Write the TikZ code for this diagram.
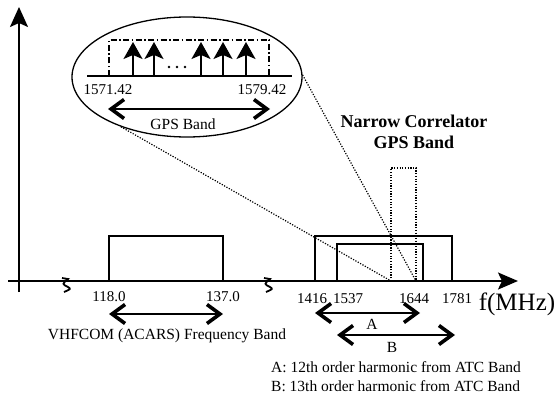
\documentclass[tikz,border=0pt]{standalone}
\usepackage{fontspec}
\setmainfont{Liberation Serif}
\usetikzlibrary{arrows.meta,shapes.geometric}
\begin{document}
\begin{tikzpicture}[x=1pt,y=-1pt,
  axis/.style={line width=1.8pt},
  band/.style={line width=1.6pt},
  dotline/.style={line width=1.2pt, dash pattern=on 1.2pt off 1.5pt},
  dashdot/.style={line width=1.3pt, dash pattern=on 6pt off 2.5pt on 1.5pt off 2.5pt},
  chev/.tip={Straight Barb[sharp,length=13pt,width=19pt,line width=3.6pt]},
  dbl/.style={line width=1.6pt, chev-chev},
  spike/.style={line width=1.6pt, -{Stealth[length=17pt,width=19pt,inset=4pt]}},
  num/.style={font=\fontsize{15}{17}\selectfont, inner sep=0pt},
  lbl/.style={font=\fontsize{15.5}{18}\selectfont, inner sep=0pt},
  brk/.style={line width=1.8pt}
]
\useasboundingbox (0,0) rectangle (557,396);

% axes
\coordinate (ybot) at (19,292);
\coordinate (ytop) at (19,7);
\coordinate (xl) at (8,281);
\coordinate (xr) at (518,281);
\draw[axis,-{Stealth[length=20pt,width=18pt,inset=4pt]}] (ybot) -- (ytop);
\draw[axis,-{Stealth[length=20pt,width=17pt,inset=4pt]}] (xl) -- (xr);

% break marks
\draw[brk] (62,278) -- (68,279) .. controls (62,284) .. (68,287) .. controls (71,289) .. (64,292);
\draw[brk] (264,278) -- (270,279) .. controls (264,284) .. (270,287) .. controls (273,289) .. (266,292);

% VHF band
\draw[band] (109,281) -- (109,236) -- (223,236) -- (223,281);
\node[num] (t118) at (109,297) {118.0};
\node[num] (t137) at (223,297) {137.0};
\coordinate (va) at (109,314);
\coordinate (vb) at (223,314);
\draw[dbl] (va) -- (vb);
\node[lbl] (vhf) at (167,336) {VHFCOM (ACARS) Frequency Band};

% ATC harmonic bands
\draw[band] (315,281) -- (315,236) -- (452,236) -- (452,281);
\draw[band] (337,281) -- (337,244) -- (423,244) -- (423,281);
\draw[dotline] (391,281) -- (391,168) -- (416,168) -- (416,281);
\coordinate (nbl) at (391,281);
\coordinate (nbr) at (416,281);

\node[num] (t1416) at (312,299) {1416};
\node[num] (t1537) at (348,299) {1537};
\node[num] (t1644) at (414,299) {1644};
\node[num] (t1781) at (457,299) {1781};
\node[font=\fontsize{25}{28}\selectfont, inner sep=0pt] (fmhz) at (517,304) {f(MHz)};

\coordinate (aa) at (315,313);
\coordinate (ab) at (420,313);
\draw[dbl] (aa) -- (ab);
\node[lbl] (la) at (372,324) {A};
\coordinate (ba) at (337,335);
\coordinate (bb) at (455,335);
\draw[dbl] (ba) -- (bb);
\node[lbl] (lb) at (392,347) {B};

\node[lbl, anchor=west] (lega) at (271,367) {A:\ 12th order harmonic from ATC Band};
\node[lbl, anchor=west] (legb) at (271,386) {B: 13th order harmonic from ATC Band};

\node[font=\bfseries\fontsize{18}{21}\selectfont, align=center, inner sep=0pt] (nc) at (414,132) {Narrow Correlator\\GPS Band};

% magnified GPS band
\node[draw, line width=1.3pt, ellipse, minimum width=230pt, minimum height=120pt, inner sep=0pt] (ell) at (187,77) {};
\draw[line width=1.5pt] (87,76) -- (292,76);
\draw[dashdot] (109,76) -- (109,40) -- (269,40) -- (269,76);
\foreach \x in {133,154,201,223,246} \draw[spike] (\x,76) -- (\x,42);
\foreach \x in {169,177,185} \fill (\x,67) circle (1.4pt);
\node[num] (g1) at (108,90) {1571.42};
\node[num] (g2) at (262,90) {1579.42};
\coordinate (ga) at (108,109);
\coordinate (gb) at (270,109);
\draw[dbl] (ga) -- (gb);
\node[lbl] (gps) at (183,124) {GPS Band};

% zoom lines
\draw[dotline] (ell.217) -- (nbl);
\draw[dotline] (ell.1) -- (nbr);
\end{tikzpicture}
\end{document}
